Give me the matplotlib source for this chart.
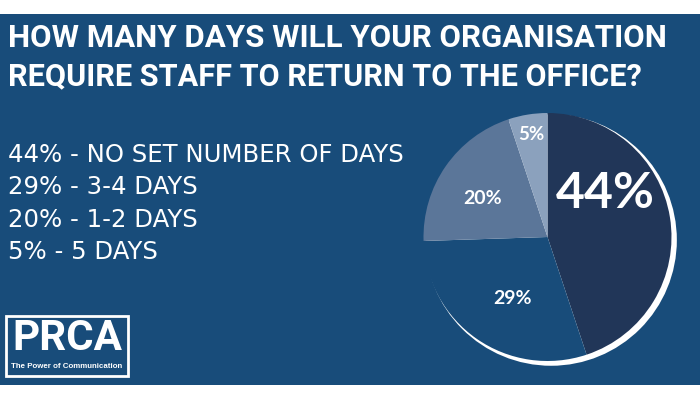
import numpy as np
import matplotlib
matplotlib.use("Agg")
import matplotlib.pyplot as plt
from matplotlib.patches import Rectangle, Circle

# Survey answers (percent of respondents)
shares = [44, 29, 20, 5]
pct_labels = ["44%", "29%", "20%", "5%"]
answers = ["NO SET NUMBER OF DAYS", "3-4 DAYS", "1-2 DAYS", "5 DAYS"]
title_lines = ["HOW MANY DAYS WILL YOUR ORGANISATION",
               "REQUIRE STAFF TO RETURN TO THE OFFICE?"]

BG = "#184c7a"
wedge_colors = ["#213658", BG, "#5b7699", "#8ba1bd"]

W, H = 700, 400
fig = plt.figure(figsize=(7, 4), dpi=100)
fig.patch.set_facecolor("white")
renderer = fig.canvas.get_renderer()


def fit_width(txt, width_px):
    """shrink/grow a text's font so it spans width_px"""
    w = txt.get_window_extent(renderer).width
    txt.set_fontsize(txt.get_fontsize() * width_px / w)
    return txt.get_fontsize()


# full-figure axes in pixel coordinates for the panel and text
bg = fig.add_axes([0, 0, 1, 1])
bg.set_xlim(0, W)
bg.set_ylim(H, 0)
bg.axis("off")
bg.add_patch(Rectangle((0, 14), W, 371, facecolor=BG, edgecolor="none"))

for i, line in enumerate(title_lines):
    t = bg.text(8, 38 + i * 38, line, color="white", fontsize=22, fontweight="bold",
                family=["Roboto", "DejaVu Sans"], va="center", ha="left")
    fit_width(t, 657 if i == 0 else 632)

legend_fs = None
for i, (p, a) in enumerate(zip(pct_labels, answers)):
    t = bg.text(8, 155 + i * 32.3, f"{p} - {a}", color="white", fontsize=15,
                family=["DejaVu Sans"], va="center", ha="left")
    if legend_fs is None:
        legend_fs = fit_width(t, 395)
    else:
        t.set_fontsize(legend_fs)

# PRCA logo
bg.add_patch(Rectangle((6, 316), 122, 60, facecolor="none", edgecolor="white", lw=2))
t = bg.text(67, 339, "PRCA", color="white", fontsize=31, fontweight="bold",
            family=["Roboto", "DejaVu Sans"], ha="center", va="center")
fit_width(t, 110)
t = bg.text(67, 366, "The Power of Communication", color="white", fontsize=5.6,
            fontweight="bold", family=["Liberation Sans", "DejaVu Sans"],
            ha="center", va="center")
fit_width(t, 110)

# pie
cx, cy, r = 547.5, 237, 124
ax = fig.add_axes([(cx - r) / W, (H - cy - r) / H, 2 * r / W, 2 * r / H])
ax.set_facecolor("none")
ang = np.deg2rad(-40)
ax.add_patch(Circle((0.038 * np.cos(ang), 0.038 * np.sin(ang)), 1.014,
                    facecolor="white", edgecolor="none", zorder=0, clip_on=False))
wedges, _ = ax.pie(shares, colors=wedge_colors, startangle=90, counterclock=False,
                   radius=1, wedgeprops=dict(linewidth=0))
for w in wedges:
    w.set_zorder(1)
    w.set_clip_on(False)

# label placement: radial distance and angle nudge per wedge
label_r = [0.58, 0.57, 0.61, 0.84]
label_shift = [28, 5, 4, 0]
label_size = [36, 14, 14, 13.5]
for w, lab, rr, sh, fs in zip(wedges, pct_labels, label_r, label_shift, label_size):
    mid = np.deg2rad((w.theta1 + w.theta2) / 2 + sh)
    ax.text(rr * np.cos(mid), rr * np.sin(mid), lab, color="white", fontsize=fs,
            fontweight="bold", family=["Lato", "DejaVu Sans"],
            ha="center", va="center", zorder=3)

ax.set_xlim(-1, 1)
ax.set_ylim(-1, 1)
ax.set_aspect("equal")
ax.axis("off")

fig.savefig("out.png", dpi=100, facecolor=fig.get_facecolor())
